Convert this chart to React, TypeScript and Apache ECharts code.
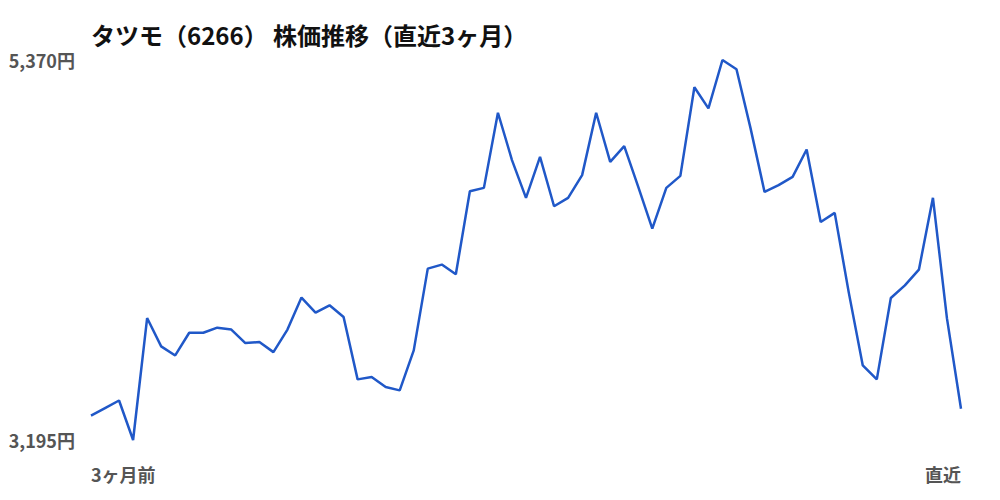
import React, { useEffect, useRef } from "react";
import * as echarts from "echarts";

const TITLE = "タツモ（6266） 株価推移（直近3ヶ月）";
const FONT = '"Noto Sans CJK JP", "Noto Sans", sans-serif';

// 終値（円）: 3ヶ月前 → 直近
const closePrices: number[] = [
  3335, 3378, 3421, 3195, 3893, 3731, 3679, 3809, 3809, 3838,
  3827, 3750, 3756, 3698, 3827, 4010, 3924, 3966, 3899, 3542,
  3555, 3498, 3479, 3708, 4176, 4199, 4144, 4619, 4638, 5068,
  4797, 4581, 4816, 4533, 4581, 4711, 5068, 4787, 4877, 4644,
  4405, 4638, 4707, 5214, 5093, 5370, 5317, 4980, 4615, 4654,
  4701, 4858, 4443, 4495, 4040, 3622, 3542, 4008, 4080, 4170,
  4581, 3891, 3374,
];

const days: string[] = closePrices.map((_, i) => String(i));
const xTickLabels = ["3ヶ月前", "直近"];
const yMin = 3195;
const yMax = 5370;
const yTicks = [yMin, yMax];

const App: React.FC = () => {
  const chartRef = useRef<HTMLDivElement>(null);

  useEffect(() => {
    let myChart: echarts.ECharts | null = null;
    if (chartRef.current) {
      myChart = echarts.init(chartRef.current, undefined, { renderer: "svg" });
      myChart.setOption({
        animation: false,
        title: {
          text: TITLE,
          left: 86,
          top: 17,
          textStyle: {
            fontFamily: FONT,
            fontSize: 24,
            fontWeight: "bold",
            color: "#111",
          },
        },
        grid: { left: 91, right: 39, top: 60, bottom: 60 },
        xAxis: {
          type: "category",
          data: days,
          boundaryGap: false,
          axisLine: { show: false },
          axisTick: { show: false },
          splitLine: { show: false },
          axisLabel: {
            interval: 0,
            margin: 25,
            alignMinLabel: "left",
            alignMaxLabel: "right",
            fontFamily: FONT,
            fontSize: 18,
            fontWeight: "bold",
            color: "#555",
            formatter: (_v: string, idx: number) =>
              idx === 0 ? xTickLabels[0] : idx === days.length - 1 ? xTickLabels[1] : "",
          },
        },
        yAxis: {
          type: "value",
          min: yMin,
          max: yMax,
          axisLine: { show: false },
          axisTick: { show: false },
          splitLine: { show: false },
          axisLabel: {
            customValues: yTicks,
            margin: 16,
            fontFamily: FONT,
            fontSize: 18,
            fontWeight: "bold",
            color: "#555",
            formatter: (v: number) => v.toLocaleString("ja-JP") + "円",
          },
        },
        series: [
          {
            type: "line",
            data: closePrices,
            symbol: "none",
            lineStyle: { color: "#2058c8", width: 2.5 },
          },
        ],
      });
    }
    return () => {
      if (myChart !== null) {
        myChart.dispose();
      }
    };
  }, []);

  return (
    <div
      ref={chartRef}
      style={{ width: 1000, height: 500, position: "absolute", left: 0, top: 0, background: "#fff" }}
    />
  );
};

export default App;
